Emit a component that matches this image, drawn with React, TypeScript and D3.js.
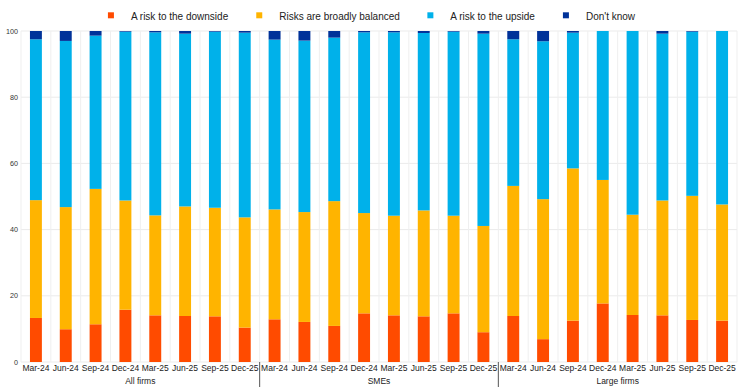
import React, { useMemo } from "react";
import * as d3 from "d3";

const groups = ["All firms", "SMEs", "Large firms"];
const periods = ["Mar-24", "Jun-24", "Sep-24", "Dec-24", "Mar-25", "Jun-25", "Sep-25", "Dec-25"];
const seriesNames = ["A risk to the downside", "Risks are broadly balanced", "A risk to the upside", "Don't know"];
const seriesColors = ["#FF4B00", "#FFB400", "#00B1EA", "#003299"];

// values per group, in period order
const downside = [
  13.3, 9.9, 11.4, 15.8, 14.1, 13.9, 13.8, 10.4,
  12.9, 12.1, 10.9, 14.7, 14.1, 13.8, 14.7, 9.0,
  13.9, 6.9, 12.5, 17.7, 14.2, 14.1, 12.7, 12.5,
];
const balanced = [
  35.6, 36.9, 40.9, 33.0, 30.2, 33.1, 32.8, 33.3,
  33.2, 33.2, 37.7, 30.3, 30.1, 32.0, 29.5, 32.1,
  39.3, 42.3, 46.0, 37.3, 30.3, 34.7, 37.5, 35.1,
];
const upside = [
  48.6, 50.2, 46.3, 51.0, 55.3, 52.2, 53.2, 55.8,
  51.3, 51.8, 49.4, 54.6, 55.4, 53.6, 55.6, 58.1,
  44.3, 47.7, 41.0, 45.0, 55.5, 50.4, 49.6, 52.4,
];
const dontKnow = [
  2.5, 3.0, 1.4, 0.2, 0.4, 0.8, 0.2, 0.5,
  2.6, 2.9, 2.0, 0.4, 0.4, 0.6, 0.2, 0.8,
  2.5, 3.1, 0.5, 0.0, 0.0, 0.8, 0.2, 0.0,
];
const yTicks = [0, 20, 40, 60, 80, 100];

const W = 743;
const H = 391;
const FONT = "'Liberation Sans', Arial, Helvetica, sans-serif";

export default function App() {
  const margin = { left: 21, right: 6, top: 31, bottom: 29 };
  const innerBottom = H - margin.bottom; // 362

  const rows = useMemo(() => {
    const out: any[] = [];
    groups.forEach((g, gi) => {
      periods.forEach((p, pi) => {
        const i = gi * periods.length + pi;
        out.push({
          key: `${g}|${p}`,
          group: g,
          period: p,
          s0: downside[i],
          s1: balanced[i],
          s2: upside[i],
          s3: dontKnow[i],
        });
      });
    });
    return out;
  }, []);

  const x = d3
    .scaleBand<string>()
    .domain(rows.map((r) => r.key))
    .range([margin.left, W - margin.right])
    .paddingInner(0)
    .paddingOuter(0);
  const y = d3.scaleLinear().domain([0, 100]).range([innerBottom, margin.top]);

  const stack = d3.stack<any>().keys(["s0", "s1", "s2", "s3"]);
  const stacked = stack(rows);

  const bw = x.bandwidth();
  const barW = bw * 0.4;

  // legend layout using measured text widths, centred on the chart
  const legendItems = useMemo(() => {
    let widths = seriesNames.map((s) => s.length * 4.8);
    try {
      const c = document.createElement("canvas").getContext("2d");
      if (c) {
        c.font = `10px ${FONT}`;
        widths = seriesNames.map((s) => c.measureText(s).width);
      }
    } catch (e) {}
    const markerToText = 23;
    const gap = 27.5;
    const total = widths.reduce((a, w) => a + markerToText + w, 0) + gap * (widths.length - 1);
    let cx = W / 2 - total / 2;
    return seriesNames.map((s, i) => {
      const it = { name: s, color: seriesColors[i], x: cx, tx: cx + markerToText };
      cx += markerToText + widths[i] + gap;
      return it;
    });
  }, []);

  const bandBoundaries = rows.map((r) => x(r.key) as number).concat([W - margin.right]);
  const sepIdx = [periods.length, periods.length * 2];

  return (
    <svg
      width={W}
      height={H}
      style={{ position: "absolute", left: 0, top: 0, background: "#fff" }}
      fontFamily={FONT}
    >
      {/* gridlines */}
      {yTicks.map((t) => (
        <line key={`hg${t}`} x1={margin.left} x2={W - margin.right} y1={y(t)} y2={y(t)} stroke="#EBEBEB" strokeWidth={1} />
      ))}
      {bandBoundaries.map((bx, i) => (
        <line key={`vg${i}`} x1={bx} x2={bx} y1={y(100)} y2={y(0)} stroke="#EFEFEF" strokeWidth={1} />
      ))}

      {/* bars */}
      {stacked.map((layer, li) => (
        <g key={layer.key} fill={seriesColors[li]}>
          {layer.map((d: any, di: number) => {
            const h = y(d[0]) - y(d[1]);
            if (h <= 0) return null;
            return (
              <rect
                key={di}
                x={(x(d.data.key) as number) + (bw - barW) / 2}
                y={y(d[1])}
                width={barW}
                height={h}
              />
            );
          })}
        </g>
      ))}

      {/* y-axis labels */}
      {yTicks.map((t) => (
        <text key={`yl${t}`} x={18} y={y(t)} dy="0.35em" textAnchor="end" fontSize={7.2} fill="#333">
          {t}
        </text>
      ))}

      {/* x tick labels */}
      {rows.map((r) => (
        <text
          key={`xl${r.key}`}
          x={(x(r.key) as number) + bw / 2}
          y={371.3}
          textAnchor="middle"
          fontSize={8.5}
          fill="#222"
        >
          {r.period}
        </text>
      ))}

      {/* group labels */}
      {groups.map((g, gi) => {
        const x0 = x(rows[gi * periods.length].key) as number;
        const x1 = (x(rows[gi * periods.length + periods.length - 1].key) as number) + bw;
        return (
          <text key={`gl${g}`} x={(x0 + x1) / 2} y={383.5} textAnchor="middle" fontSize={8.5} fill="#222">
            {g}
          </text>
        );
      })}

      {/* group separators */}
      {sepIdx.map((si) => {
        const bx = x(rows[si].key) as number;
        return <line key={`sep${si}`} x1={bx} x2={bx} y1={y(0)} y2={387} stroke="#555" strokeWidth={1} />;
      })}

      {/* legend */}
      {legendItems.map((it) => (
        <g key={it.name}>
          <rect x={it.x} y={12.3} width={6} height={6} fill={it.color} />
          <text x={it.tx} y={16.4} dy="0.35em" fontSize={10} fill="#222">
            {it.name}
          </text>
        </g>
      ))}
    </svg>
  );
}
